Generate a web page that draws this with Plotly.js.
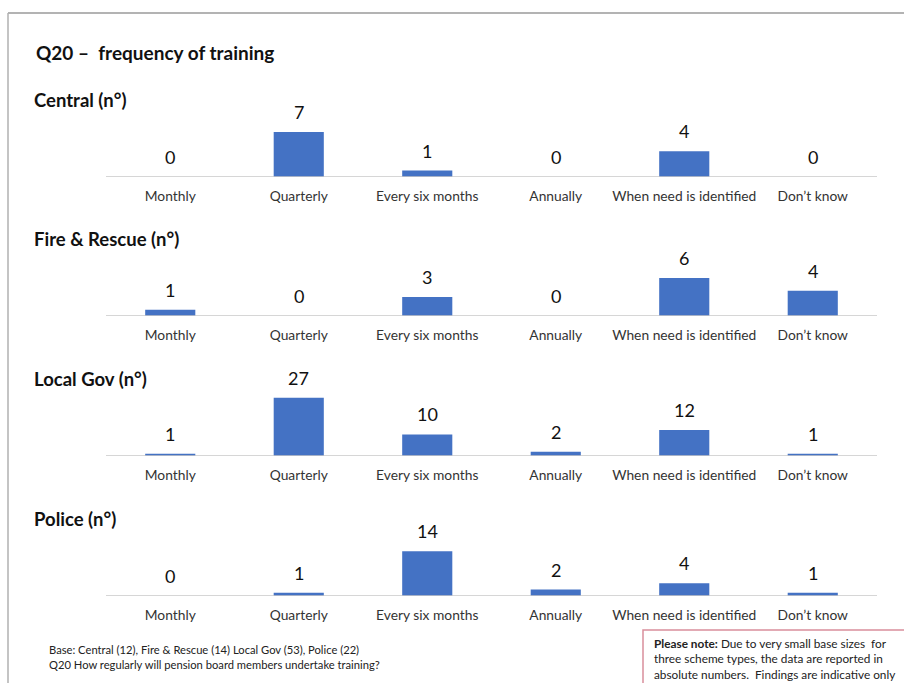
<!DOCTYPE html>
<html><head><meta charset="utf-8">
<script src="https://cdn.plot.ly/plotly-3.0.1.min.js"></script>
<style>html,body{margin:0;padding:0;background:#fff}#chart{width:904px;height:683px}</style>
</head><body><div id="chart"></div>
<script>
const categories = ["Monthly","Quarterly","Every six months","Annually","When need is identified","Don\u2019t know"];
const panelTitles = ["Central (n\u00b0)","Fire & Rescue (n\u00b0)","Local Gov (n\u00b0)","Police (n\u00b0)"];
const central = [0,7,1,0,4,0];
const fireRescue = [1,0,3,0,6,4];
const localGov = [1,27,10,2,12,1];
const police = [0,1,14,2,4,1];
const series = [central, fireRescue, localGov, police];
const yMax = [10.9, 11.05, 32.4, 21.9];

const W = 904, H = 683;
const baselines = [177, 316, 456, 596];
const plotH = 70;
const xDom = [106/W, 877/W];
const FONT = "Lato, 'Open Sans', sans-serif";
const BLUE = "#4472C4";

const traces = [];
const layout = {
  width: W, height: H, margin:{l:0,r:0,t:0,b:0},
  paper_bgcolor:"#fff", plot_bgcolor:"rgba(0,0,0,0)",
  showlegend:false,
  font:{family:FONT, color:"#222"},
  annotations:[], shapes:[]
};

series.forEach((vals, i) => {
  const n = i === 0 ? "" : String(i+1);
  traces.push({type:"bar", x:categories, y:vals, xaxis:"x"+n, yaxis:"y"+n,
    marker:{color:BLUE}, hoverinfo:"skip", width:0.39});
  const b = baselines[i];
  layout["xaxis"+n] = {domain:xDom, anchor:"y"+n, type:"category",
    range:[-0.5,5.5], showgrid:false, zeroline:false, showline:false, ticks:"",
    tickfont:{family:FONT, size:13.8, color:"#333"}, fixedrange:true, ticklabelstandoff:9};
  layout["yaxis"+n] = {domain:[1-b/H, 1-(b-plotH)/H], anchor:"x"+n,
    range:[0, yMax[i]], visible:false, fixedrange:true};
  layout.shapes.push({type:"line", xref:"x"+n+" domain", yref:"y"+n, x0:0, x1:1, y0:0, y1:0,
    line:{color:"#c8c8c8", width:1.5}});
  vals.forEach((v, k) => {
    layout.annotations.push({x:categories[k], y:v, xref:"x"+n, yref:"y"+n,
      text:String(v), showarrow:false, yanchor:"bottom", yshift:7,
      font:{family:FONT, size:18, color:"#111"}});
  });
  layout.annotations.push({xref:"paper", yref:"paper", x:32/W, y:1-(b-77)/H,
    text:"<b>"+panelTitles[i]+"</b>", showarrow:false, xanchor:"left", yanchor:"middle",
    font:{family:FONT, size:18.5, color:"#111"}});
});

layout.annotations.push({xref:"paper", yref:"paper", x:34/W, y:1-52/H,
  text:"<b>Q20 \u2013  frequency of training</b>", showarrow:false, xanchor:"left", yanchor:"middle",
  font:{family:FONT, size:19, color:"#111"}});
layout.annotations.push({xref:"paper", yref:"paper", x:47/W, y:1-657/H,
  text:"Base: Central (12), Fire & Rescue (14) Local Gov (53), Police (22)<br>Q20 How regularly will pension board members undertake training?",
  showarrow:false, xanchor:"left", yanchor:"middle", align:"left",
  font:{family:FONT, size:11.2, color:"#222"}});
layout.shapes.push({type:"rect", xref:"paper", yref:"paper", x0:643/W, x1:1.01, y0:-0.01, y1:1-630/H,
  line:{color:"#d98f9c", width:1.5}, fillcolor:"#fff"});
layout.annotations.push({xref:"paper", yref:"paper", x:652/W, y:1-659/H,
  text:"<b>Please note:</b> Due to very small base sizes  for<br>three scheme types, the data are reported in<br>absolute numbers.  Findings are indicative only",
  showarrow:false, xanchor:"left", yanchor:"middle", align:"left",
  font:{family:FONT, size:11.8, color:"#222"}});
layout.shapes.push({type:"line", xref:"paper", yref:"paper", x0:8/W, x1:1, y0:1-13/H, y1:1-13/H,
  line:{color:"#9a9a9a", width:1.5}});
layout.shapes.push({type:"line", xref:"paper", yref:"paper", x0:8/W, x1:8/W, y0:0, y1:1-13/H,
  line:{color:"#b0b0b0", width:1.5}});

Plotly.newPlot("chart", traces, layout, {staticPlot:true, displayModeBar:false});
</script></body></html>
